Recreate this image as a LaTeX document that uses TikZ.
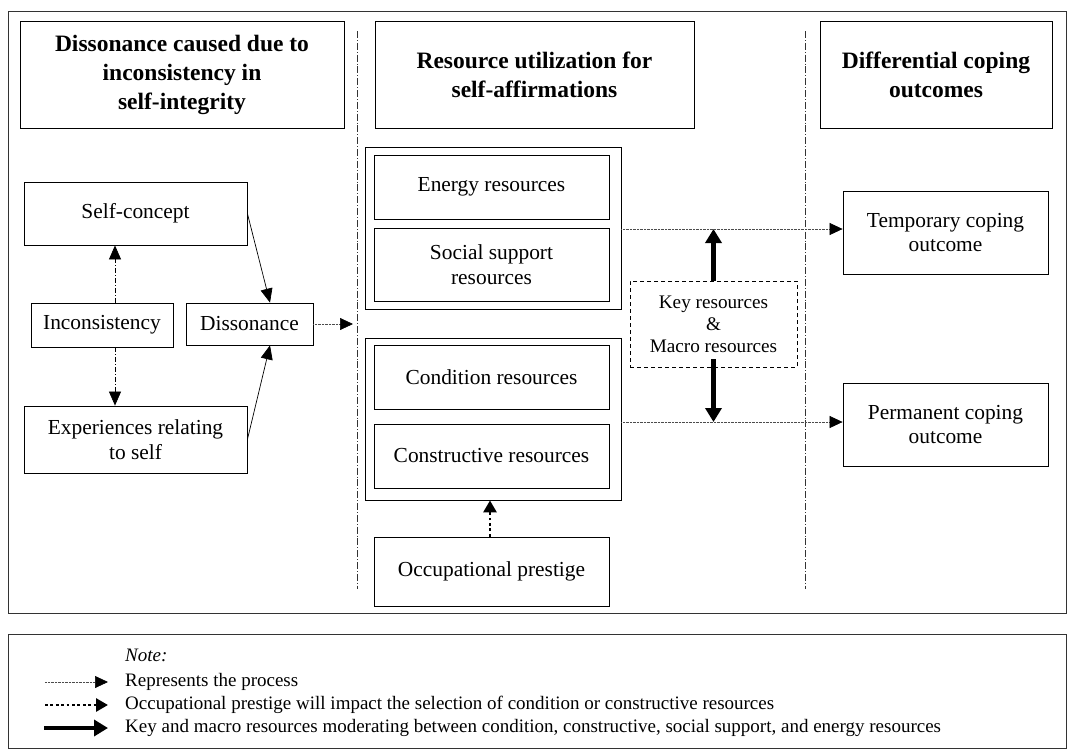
\documentclass[tikz,border=0pt]{standalone}
\usepackage{fontspec}
\setmainfont{Liberation Serif}
\usetikzlibrary{arrows.meta}
\newcommand\bodyf{\fontsize{21.4}{24.5}\selectfont}
\newcommand\headf{\fontsize{23.5}{29}\selectfont\bfseries}
\newcommand\keyf{\fontsize{19.2}{22}\selectfont}
\newcommand\legf{\fontsize{19}{23}\selectfont}
\begin{document}
\begin{tikzpicture}[x=1pt,y=-1pt,
  every node/.style={inner sep=0pt, align=center},
  bx/.style={draw, line width=0.8pt, font=\bodyf},
  hd/.style={draw, line width=0.8pt, font=\headf},
  grp/.style={draw, line width=0.8pt},
  keybox/.style={draw, line width=0.8pt, dash pattern=on 4pt off 3pt, font=\keyf},
  sep/.style={draw=black!80, line width=0.6pt, dash pattern=on 7pt off 2pt on 0.8pt off 2pt},
  proc/.style={draw=black!70, line width=0.7pt, dash pattern=on 0.9pt off 0.5pt, -{Triangle[length=13pt,width=12pt,color=black,fill=black]}},
  solidarr/.style={draw, line width=0.7pt, -{Triangle[length=14pt,width=12pt]}},
  ddarr/.style={draw, line width=0.7pt, dash pattern=on 5pt off 2pt on 1pt off 2pt, -{Triangle[length=14pt,width=12pt]}},
  prestarr/.style={draw, line width=2.8pt, dash pattern=on 2.8pt off 2.6pt, -{Triangle[length=12pt,width=13pt]}},
  keyarr/.style={draw, line width=4.8pt, -{Triangle[length=14pt,width=16pt]}},
  legtext/.style={anchor=west, font=\legf}
]
\useasboundingbox (0,0) rectangle (1072,750);
% frames
\draw[line width=0.9pt, draw=black!80] (8,11) rectangle (1066,613);
\draw[line width=0.9pt, draw=black!80] (8,634) rectangle (1066,748);
% separators
\draw[sep] (357,31) -- (357,589);
\draw[sep] (805.5,31) -- (805.5,589);
% headers
\node[hd, minimum width=324pt, minimum height=107pt] (h1) at (182,74.5) {Dissonance caused due to\\inconsistency in\\self-integrity};
\node[hd, minimum width=319pt, minimum height=107pt] (h2) at (534.5,74.5) {Resource utilization for\\self-affirmations};
\node[hd, minimum width=232pt, minimum height=107pt] (h3) at (936,74.5) {Differential coping\\outcomes};
% left column
\node[bx, minimum width=223pt, minimum height=63pt] (self) at (135.5,213.5) {Self-concept};
\node[bx, minimum width=142pt, minimum height=44pt] (incons) at (102,325) {Inconsistency};
\node[bx, minimum width=127pt, minimum height=42pt] (disso) at (249.5,324) {Dissonance};
\node[bx, minimum width=223pt, minimum height=67pt] (exper) at (135.5,439.5) {Experiences relating\\to self};
% middle column
\node[grp, minimum width=256pt, minimum height=162pt] (g1) at (493,228) {};
\node[bx, minimum width=235pt, minimum height=64pt] (energy) at (491.5,187) {Energy resources};
\node[bx, minimum width=235pt, minimum height=73pt] (social) at (491.5,264.5) {Social support\\resources};
\node[grp, minimum width=256pt, minimum height=162pt] (g2) at (493,419) {};
\node[bx, minimum width=235pt, minimum height=64pt] (cond) at (491.5,377) {Condition resources};
\node[bx, minimum width=235pt, minimum height=64pt] (constr) at (491.5,456) {Constructive resources};
\node[bx, minimum width=235pt, minimum height=69pt] (occ) at (491.5,571.5) {Occupational prestige};
\node[keybox, minimum width=167pt, minimum height=86pt] (key) at (713.5,324) {Key resources\\\&\\Macro resources};
% right column
\node[bx, minimum width=205pt, minimum height=83pt] (temp) at (945.5,232.5) {Temporary coping\\outcome};
\node[bx, minimum width=205pt, minimum height=83pt] (perm) at (945.5,424.5) {Permanent coping\\outcome};
% connectors
\draw[solidarr] (self.east) -- ([xshift=20.5pt]disso.north);
\draw[solidarr] (exper.east) -- ([xshift=20.5pt]disso.south);
\draw[ddarr] ([xshift=13pt]incons.north) -- ([xshift=13pt]incons.north |- self.south);
\draw[ddarr] ([xshift=13pt]incons.south) -- ([xshift=13pt]incons.south |- exper.north);
\coordinate (dend) at (353,324);
\draw[proc] (disso.east) -- (dend);
\draw[proc] ([yshift=-1pt]g1.east) -- ([yshift=-1pt]g1.east -| temp.west);
\draw[proc] ([yshift=-3pt]g2.east) -- ([yshift=-3pt]g2.east -| perm.west);
\draw[keyarr] (key.north) -- ([yshift=-1pt]key.north |- g1.east);
\draw[keyarr] ([yshift=8pt]key.south) -- ([yshift=-3pt]key.south |- g2.east);
\draw[prestarr] ([xshift=-1.5pt]occ.north) -- ([xshift=-1.5pt]occ.north |- g2.south);
% legend
\node[anchor=west, font=\legf\itshape] (note) at (125,655) {Note:};
\coordinate (l1a) at (45,682); \coordinate (l1b) at (108,682);
\coordinate (l2a) at (45,705); \coordinate (l2b) at (108,705);
\coordinate (l3a) at (44,728); \coordinate (l3b) at (108,728);
\draw[proc] (l1a) -- (l1b);
\draw[prestarr] (l2a) -- (l2b);
\draw[keyarr] (l3a) -- (l3b);
\node[legtext] (t1) at (125,682) {Represents the process};
\node[legtext] (t2) at (125,705) {Occupational prestige will impact the selection of condition or constructive resources};
\node[legtext] (t3) at (125,728) {Key and macro resources moderating between condition, constructive, social support, and energy resources};
\end{tikzpicture}
\end{document}
